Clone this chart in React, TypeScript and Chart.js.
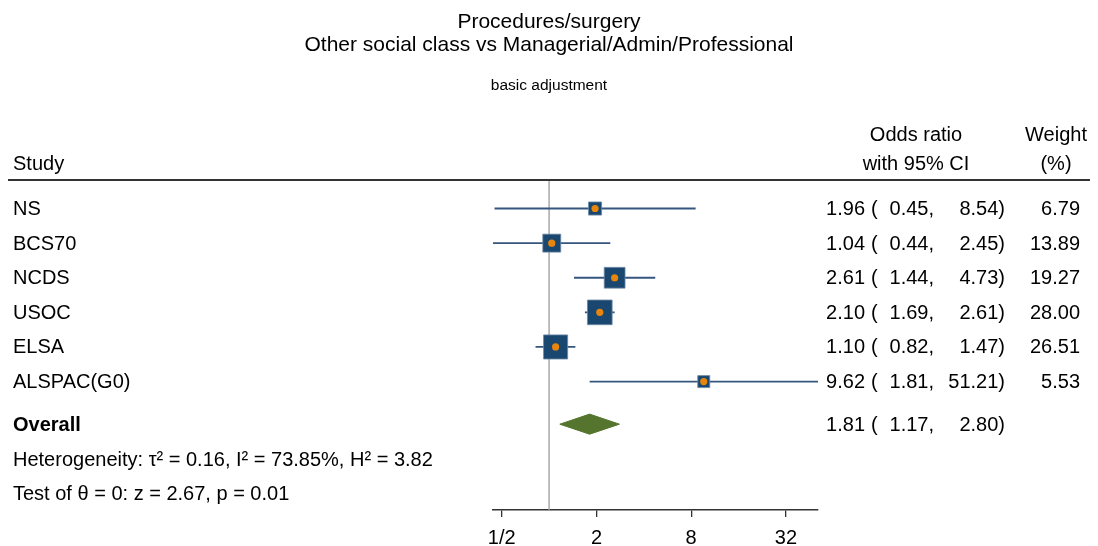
import React, { useEffect, useRef } from 'react';
import { Chart, registerables } from 'chart.js';

Chart.register(...registerables);

// ---------- data ----------
const titleLines = ['Procedures/surgery', 'Other social class vs Managerial/Admin/Professional'];
const subtitleText = 'basic adjustment';

const studies = ['NS', 'BCS70', 'NCDS', 'USOC', 'ELSA', 'ALSPAC(G0)'];
const oddsRatios = [1.96, 1.04, 2.61, 2.1, 1.1, 9.62];
const ciLower = [0.45, 0.44, 1.44, 1.69, 0.82, 1.81];
const ciUpper = [8.54, 2.45, 4.73, 2.61, 1.47, 51.21];
const weights = [6.79, 13.89, 19.27, 28.0, 26.51, 5.53];

const overallLabel = 'Overall';
const overallOR = 1.81;
const overallLower = 1.17;
const overallUpper = 2.8;

const heterogeneityText = 'Heterogeneity: \u03C4\u00B2 = 0.16, I\u00B2 = 73.85%, H\u00B2 = 3.82';
const testText = 'Test of \u03B8 = 0: z = 2.67, p = 0.01';

const studyHeader = 'Study';
const effectHeader = ['Odds ratio', 'with 95% CI'];
const weightHeader = ['Weight', '(%)'];

const tickValues = [0.5, 2, 8, 32];
const tickLabels = ['1/2', '2', '8', '32'];
const nullValue = 1;

// ---------- layout / style ----------
const FONT = '"Liberation Sans", Arial, Helvetica, sans-serif';
const NAVY = '#1a476f';
const CI_COLOR = '#34567f';
const DOT_COLOR = '#e8850c';
const DIAMOND_COLOR = '#55752f';
const REF_COLOR = '#9d9d9d';

const n = studies.length;
const studyRows = studies.map((_, i) => i + 1);
const overallRow = n + 1.23;
const hetRow = n + 2.24;
const testRow = n + 3.22;
const headRow1 = -1.1;
const headRow2 = -0.27;
const yMin = 0.205;
const yMax = n + 3.71;
const diamondHalf = 0.29;

const squareRadius = (w: number) => (4.32 * Math.sqrt(w) + 1.85) / Math.SQRT2;
const fmt = (v: number) => v.toFixed(2);

const textPlugin = {
  id: 'forestText',
  afterDraw(chart: any) {
    const ctx = chart.ctx as CanvasRenderingContext2D;
    const ys = chart.scales.y;
    const top = chart.chartArea.top;
    ctx.save();
    // header rule
    ctx.strokeStyle = '#333';
    ctx.lineWidth = 2;
    ctx.beginPath();
    ctx.moveTo(8, top - 1);
    ctx.lineTo(1090, top - 1);
    ctx.stroke();

    ctx.fillStyle = '#000';
    ctx.textBaseline = 'middle';
    const normal = `20px ${FONT}`;
    ctx.font = normal;

    // headers
    const h1 = ys.getPixelForValue(headRow1);
    const h2 = ys.getPixelForValue(headRow2);
    ctx.textAlign = 'left';
    ctx.fillText(studyHeader, 13, h2);
    ctx.textAlign = 'center';
    ctx.fillText(effectHeader[0], 916, h1);
    ctx.fillText(effectHeader[1], 916, h2);
    ctx.fillText(weightHeader[0], 1056, h1);
    ctx.fillText(weightHeader[1], 1056, h2);

    const drawStats = (py: number, or: number, lo: number, hi: number, w?: number) => {
      ctx.textAlign = 'right';
      ctx.fillText(fmt(or), 865, py);
      ctx.textAlign = 'left';
      ctx.fillText('(', 871, py);
      ctx.textAlign = 'right';
      ctx.fillText(`${fmt(lo)},`, 934, py);
      ctx.fillText(`${fmt(hi)})`, 1005, py);
      if (w !== undefined) ctx.fillText(fmt(w), 1080, py);
    };

    studies.forEach((s, i) => {
      const py = ys.getPixelForValue(studyRows[i]) + 1;
      ctx.textAlign = 'left';
      ctx.fillText(s, 13, py);
      drawStats(py, oddsRatios[i], ciLower[i], ciUpper[i], weights[i]);
    });

    const po = ys.getPixelForValue(overallRow) + 1;
    ctx.font = `bold 20px ${FONT}`;
    ctx.textAlign = 'left';
    ctx.fillText(overallLabel, 13, po);
    ctx.font = normal;
    drawStats(po, overallOR, overallLower, overallUpper);

    ctx.textAlign = 'left';
    ctx.fillText(heterogeneityText, 13, ys.getPixelForValue(hetRow) + 1);
    ctx.fillText(testText, 13, ys.getPixelForValue(testRow) + 1);
    ctx.restore();
  },
};

export default function App() {
  const canvasRef = useRef<HTMLCanvasElement | null>(null);

  useEffect(() => {
    if (!canvasRef.current) return;
    const ciDatasets = studies.map((_, i) => ({
      type: 'line' as const,
      data: [
        { x: ciLower[i], y: studyRows[i] },
        { x: ciUpper[i], y: studyRows[i] },
      ],
      borderColor: CI_COLOR,
      borderWidth: 1.8,
      pointRadius: 0,
      fill: false,
      tension: 0,
      order: 3,
    }));

    const chart = new Chart(canvasRef.current, {
      type: 'scatter',
      data: {
        datasets: [
          {
            type: 'scatter',
            data: studies.map((_, i) => ({ x: oddsRatios[i], y: studyRows[i] })),
            pointStyle: 'circle',
            pointRadius: 3.6,
            backgroundColor: DOT_COLOR,
            borderWidth: 0,
            order: 0,
          },
          {
            type: 'scatter',
            data: studies.map((_, i) => ({ x: oddsRatios[i], y: studyRows[i] })),
            pointStyle: 'rect',
            pointRadius: weights.map(squareRadius),
            backgroundColor: NAVY,
            borderColor: '#6f8aa6',
            borderWidth: 0.8,
            order: 1,
          },
          {
            type: 'line',
            data: [
              { x: overallLower, y: overallRow },
              { x: overallOR, y: overallRow - diamondHalf },
              { x: overallUpper, y: overallRow },
              { x: overallOR, y: overallRow + diamondHalf },
              { x: overallLower, y: overallRow },
            ],
            borderColor: DIAMOND_COLOR,
            borderWidth: 1,
            backgroundColor: DIAMOND_COLOR,
            fill: 'shape',
            pointRadius: 0,
            tension: 0,
            order: 2,
          },
          ...ciDatasets,
          {
            type: 'line',
            data: [
              { x: nullValue, y: yMin },
              { x: nullValue, y: yMax },
            ],
            borderColor: REF_COLOR,
            borderWidth: 1.3,
            pointRadius: 0,
            fill: false,
            order: 5,
          },
        ] as any,
      },
      options: {
        animation: false,
        responsive: false,
        events: [],
        layout: { padding: 0 },
        plugins: {
          legend: { display: false },
          tooltip: { enabled: false },
          title: {
            display: true,
            text: titleLines,
            color: '#000',
            font: { family: FONT, size: 21, weight: 'normal', lineHeight: 1.1 },
            padding: { top: 10.5, bottom: 0 },
          },
          subtitle: {
            display: true,
            text: subtitleText,
            color: '#000',
            font: { family: FONT, size: 15.5, weight: 'normal', lineHeight: 1.2 },
            padding: { top: 20, bottom: 85.7 },
          },
        },
        scales: {
          x: {
            type: 'logarithmic',
            position: 'bottom',
            min: Math.min(...ciLower),
            max: Math.max(...ciUpper),
            afterFit: (s: any) => {
              s.height = 36;
            },
            afterBuildTicks: (s: any) => {
              s.ticks = tickValues.map((v) => ({ value: v }));
            },
            ticks: {
              autoSkip: false,
              maxRotation: 0,
              minRotation: 0,
              color: '#000',
              font: { family: FONT, size: 20 },
              padding: 9,
              callback: (v: any) => {
                const i = tickValues.indexOf(Number(v));
                return i >= 0 ? tickLabels[i] : '';
              },
            },
            grid: {
              drawOnChartArea: false,
              drawTicks: true,
              tickLength: 7,
              color: '#333',
              lineWidth: 1.3,
            },
            border: { display: true, color: '#333', width: 1.5 },
          },
          y: {
            type: 'linear',
            position: 'left',
            reverse: true,
            min: yMin,
            max: yMax,
            afterFit: (s: any) => {
              s.width = 493;
            },
            ticks: { display: false },
            grid: { display: false },
            border: { display: false },
          },
          y2: {
            type: 'linear',
            position: 'right',
            reverse: true,
            min: yMin,
            max: yMax,
            afterFit: (s: any) => {
              s.width = 280;
            },
            ticks: { display: false },
            grid: { display: false },
            border: { display: false },
          },
        },
      } as any,
      plugins: [textPlugin],
    });
    return () => chart.destroy();
  }, []);

  return (
    <div style={{ position: 'absolute', left: 0, top: 0, width: 1098, height: 546, background: '#fff' }}>
      <canvas ref={canvasRef} width={1098} height={546} />
    </div>
  );
}
